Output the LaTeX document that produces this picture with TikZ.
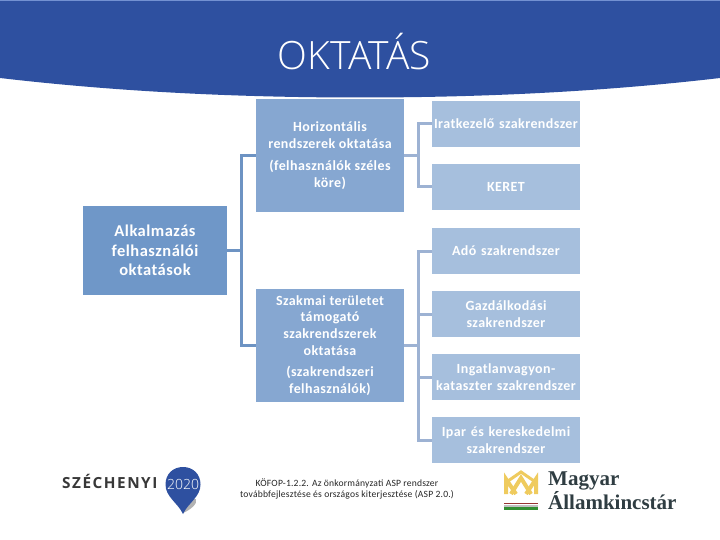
\documentclass[tikz,border=0pt]{standalone}
\usepackage{fontspec}
\setmainfont{Carlito}
\newfontfamily\boxfont[LetterSpace=3]{Carlito}
\newfontfamily\foot[LetterSpace=2]{Carlito}
\newfontfamily\logofont[LetterSpace=10]{Open Sans}
\newfontfamily\serifl{Liberation Serif}
\newfontfamily\thinf{Open Sans Light}
\definecolor{banner}{HTML}{2E50A0}
\definecolor{bannertop}{HTML}{7391D2}
\definecolor{cone}{HTML}{6F97C8}
\definecolor{ctwo}{HTML}{86A7D1}
\definecolor{cthree}{HTML}{A6BFDD}
\definecolor{linkone}{HTML}{6D93C3}
\definecolor{linktwo}{HTML}{9DB2D3}
\definecolor{gold}{HTML}{EFCB5E}
\definecolor{slate}{HTML}{2F3D42}
\tikzset{
  box/.style={rectangle,inner sep=0pt,text=white,align=center},
  rootbox/.style={box,fill=cone,minimum width=144pt,minimum height=89pt,font={\fontsize{16.5}{19.5}\selectfont\boxfont\bfseries}},
  midbox/.style={box,fill=ctwo,minimum width=148pt,minimum height=113pt,font={\fontsize{14}{16.7}\selectfont\boxfont\bfseries}},
  leafbox/.style={box,fill=cthree,minimum width=148pt,minimum height=46pt,text width=147pt,font={\fontsize{14}{16.7}\selectfont\boxfont\bfseries}},
  linka/.style={draw=linkone,line width=3pt},
  linkb/.style={draw=linktwo,line width=3pt},
  goldline/.style={draw=gold,line width=4pt,line join=miter},
}
\begin{document}
\begin{tikzpicture}[x=1pt,y=-1pt]
\useasboundingbox (0,0) rectangle (720,540);
\fill[white] (0,0) rectangle (720,540);
% banner
\fill[banner] (0,0) -- (720,0) -- (720,78) .. controls (600,92) and (480,97.5) .. (360,97.5) .. controls (240,97.5) and (120,92) .. (0,78) -- cycle;
\fill[bannertop] (0,0) rectangle (720,1);
\node[text=white,inner sep=0pt,anchor=base,font={\fontsize{39}{39}\selectfont\thinf}] (title) at (354.5,70) {OKTATÁS};
% boxes
\node[rootbox] (alk) at (155,250.5) {Alkalmazás\\felhasználói\\oktatások};
\node[midbox] (hor) at (330,155.5) {Horizontális\\rendszerek oktatása\\[6pt](felhasználók széles\\köre)};
\node[midbox] (szak) at (330,345.5) {Szakmai területet\\támogató\\szakrendszerek\\oktatása\\[5pt](szakrendszeri\\felhasználók)};
\node[leafbox] (l1) at (506,124) {Iratkezelő szakrendszer};
\node[leafbox] (l2) at (506,187) {KERET};
\node[leafbox] (l3) at (506,251) {Adó szakrendszer};
\node[leafbox] (l4) at (506,314) {Gazdálkodási\\szakrendszer};
\node[leafbox] (l5) at (506,377) {Ingatlanvagyon-\\kataszter szakrendszer};
\node[leafbox] (l6) at (506,440) {Ipar és kereskedelmi\\szakrendszer};
% connectors
\coordinate (sa) at (241,250.5);
\coordinate (sb) at (418,155.5);
\coordinate (sc) at (418,345.5);
\draw[linka] (alk.east) -- (sa);
\draw[linka] (hor.west) -| (sa);
\draw[linka] (szak.west) -| (sa);
\draw[linkb] (hor.east) -- (sb);
\draw[linkb] (l1.west) -| (sb);
\draw[linkb] (l2.west) -| (sb);
\draw[linkb] (szak.east) -- (sc);
\draw[linkb] (l3.west) -| (sc);
\draw[linkb] (l4.west) -| (sc);
\draw[linkb] (l5.west) -| (sc);
\draw[linkb] (l6.west) -| (sc);
% footer
\node[align=center,inner sep=0pt,text=black!85,font={\fontsize{9.6}{11.5}\selectfont\foot}] (ftxt) at (347,489) {KÖFOP-1.2.2. Az önkormányzati ASP rendszer\\továbbfejlesztése és országos kiterjesztése (ASP 2.0.)};
% Szechenyi logo
\node[anchor=base west,inner sep=0pt,text=black!78,font={\fontsize{15.3}{15.3}\selectfont\logofont\bfseries}] (szech) at (62,488.5) {SZÉCHENYI};
\fill[black!30] (183,513) -- (186,499) -- (196,499) .. controls (198,504) and (190,510) .. cycle;
\fill[banner] (183,514) .. controls (178,503) and (165.5,497) .. (165.5,484.5) .. controls (165.5,474) and (173,467) .. (183,467) .. controls (193,467) and (200.5,474) .. (200.5,484.5) .. controls (200.5,497) and (188,503) .. (183,514) -- cycle;
\node[text=white,inner sep=0pt,font={\fontsize{14}{14}\selectfont\thinf}] (yr) at (183,484) {2020};
% Allamkincstar logo
\draw[goldline] (506,494) -- (506,479) -- (516,494);
\draw[goldline] (536,494) -- (536,479) -- (526,494);
\draw[goldline] (511,494) -- (521,478) -- (531,494);
\draw[goldline,line width=3pt] (508,481) -- (521,472) -- (534,481);
\fill[red!50!black!80] (504,503) rectangle (538,504.3);
\fill[black!25] (504,505) rectangle (538,506.5);
\fill[green!45!black!80] (504,507) rectangle (538,510);
\node[anchor=base west,inner sep=0pt,text=slate,font={\fontsize{21}{21}\selectfont\serifl\bfseries}] (m1) at (548,485) {Magyar};
\node[anchor=base west,inner sep=0pt,text=slate,font={\fontsize{21}{21}\selectfont\serifl\bfseries}] (m2) at (548,509) {Államkincstár};
\end{tikzpicture}
\end{document}
